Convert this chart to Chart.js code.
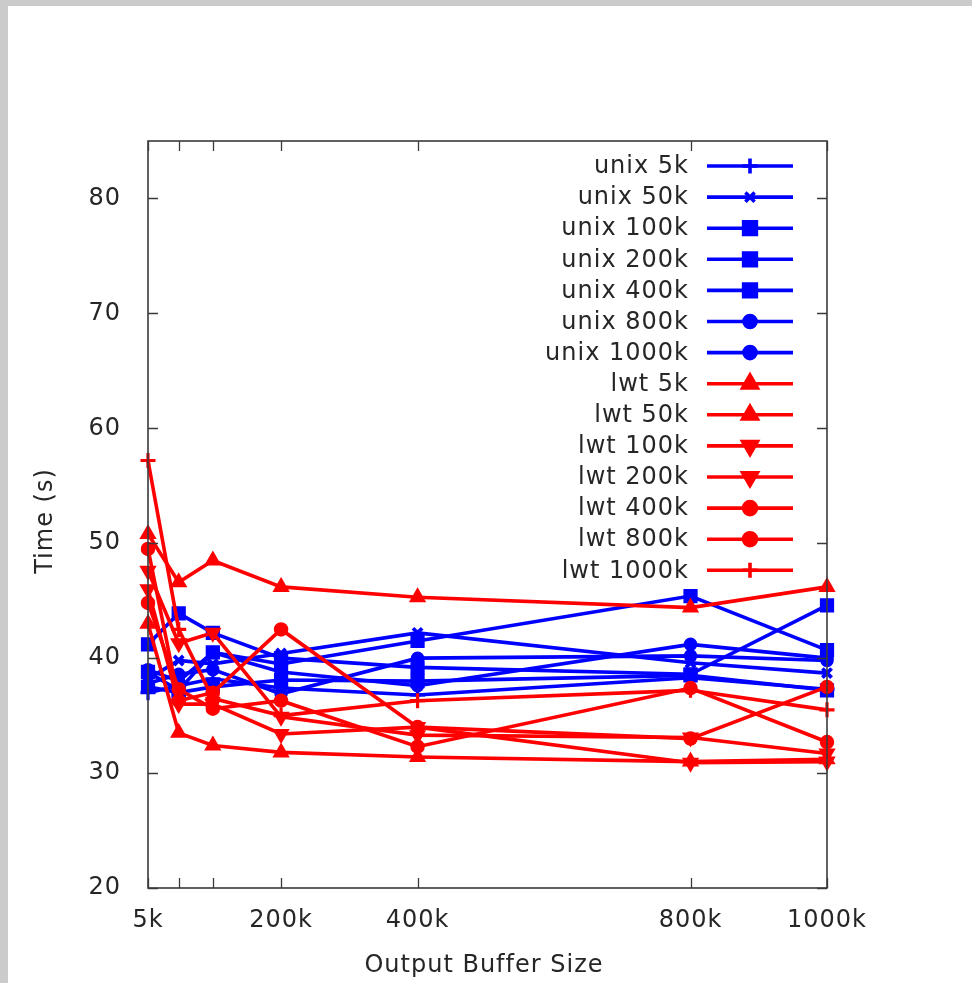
<!DOCTYPE html>
<html>
<head>
<meta charset="utf-8">
<script src="https://cdn.jsdelivr.net/npm/chart.js@4.4.1/dist/chart.umd.min.js"></script>
<style>
  html, body { margin: 0; padding: 0; background: #ffffff; }
  #wrap { position: absolute; left: 0; top: 0; width: 972px; height: 983px; }
</style>
</head>
<body>
<div id="wrap"><canvas id="c" width="972" height="983"></canvas></div>
<script>
// ---- data ----
const bufferSizes = [5, 50, 100, 200, 400, 800, 1000];          // x positions in k
const xTickValues = [5, 50, 100, 200, 400, 800, 1000];
const xTickLabels = ['5k', '', '', '200k', '400k', '800k', '1000k'];
const yTickValues = [20, 30, 40, 50, 60, 70, 80];

const seriesNames = ['unix 5k', 'unix 50k', 'unix 100k', 'unix 200k', 'unix 400k', 'unix 800k', 'unix 1000k',
                     'lwt 5k', 'lwt 50k', 'lwt 100k', 'lwt 200k', 'lwt 400k', 'lwt 800k', 'lwt 1000k'];

const unix5k    = [37.0, 37.6, 38.2, 37.4, 36.8, 38.3, 37.3];
const unix50k   = [38.2, 39.8, 39.5, 40.4, 42.2, 39.6, 38.7];
const unix100k  = [41.2, 43.9, 42.2, 40.0, 39.2, 38.6, 44.6];
const unix200k  = [38.8, 37.2, 40.5, 39.5, 41.5, 45.4, 40.7];
const unix400k  = [37.5, 37.0, 37.5, 38.1, 38.0, 38.5, 37.2];
const unix800k  = [39.0, 38.0, 40.5, 38.8, 37.6, 41.2, 40.0];
const unix1000k = [37.8, 38.6, 39.0, 36.9, 40.0, 40.2, 39.8];

const lwt5k     = [43.0, 33.5, 32.4, 31.8, 31.4, 31.0, 31.2];
const lwt50k    = [50.8, 46.6, 48.5, 46.2, 45.3, 44.4, 46.2];
const lwt100k   = [47.6, 41.3, 42.2, 34.9, 33.3, 33.1, 31.7];
const lwt200k   = [46.0, 36.0, 36.0, 33.4, 34.0, 30.9, 31.0];
const lwt400k   = [49.5, 36.3, 37.0, 42.5, 34.0, 33.0, 37.5];
const lwt800k   = [44.8, 37.3, 35.6, 36.3, 32.3, 37.4, 32.7];
const lwt1000k  = [57.2, 42.5, 36.5, 35.0, 36.3, 37.2, 35.5];

const seriesValues = [unix5k, unix50k, unix100k, unix200k, unix400k, unix800k, unix1000k,
                      lwt5k, lwt50k, lwt100k, lwt200k, lwt400k, lwt800k, lwt1000k];

// ---- styles ----
const BLUE = '#0000ff', RED = '#ff0000';
const markerStyles = [
  {s: 'cross', r: 7.5, bw: 3.2, rot: 0},
  {s: 'crossRot', r: 6.5, bw: 3.8, rot: 0},
  {s: 'rect', r: 9, bw: 1.5, rot: 0},
  {s: 'rect', r: 9, bw: 1.5, rot: 0},
  {s: 'rect', r: 9, bw: 1.5, rot: 0},
  {s: 'circle', r: 6, bw: 1.5, rot: 0},
  {s: 'circle', r: 6, bw: 1.5, rot: 0},
  {s: 'triangle', r: 8.5, bw: 1.5, rot: 0},
  {s: 'triangle', r: 8.5, bw: 1.5, rot: 0},
  {s: 'triangle', r: 8.5, bw: 1.5, rot: 180},
  {s: 'triangle', r: 8.5, bw: 1.5, rot: 180},
  {s: 'circle', r: 6.5, bw: 1.5, rot: 0},
  {s: 'circle', r: 6.5, bw: 1.5, rot: 0},
  {s: 'cross', r: 7.5, bw: 3.2, rot: 0}
];
const FONT = "'DejaVu Sans', 'Liberation Sans', sans-serif";
const TEXT = '#262626';
const LINE_W = 3.6;

const datasets = seriesNames.map((name, i) => {
  const col = i < 7 ? BLUE : RED;
  const m = markerStyles[i];
  return {
    label: name,
    data: bufferSizes.map((b, j) => ({x: b, y: seriesValues[i][j]})),
    borderColor: col,
    backgroundColor: col,
    borderWidth: LINE_W,
    pointStyle: m.s,
    pointRadius: m.r,
    pointRotation: m.rot,
    pointBorderWidth: m.bw,
    pointBackgroundColor: col,
    pointBorderColor: col,
    tension: 0,
    clip: false,
    order: -i
  };
});

const bgPlugin = {
  id: 'bg',
  beforeDraw(chart) {
    const ctx = chart.ctx;
    ctx.save();
    ctx.fillStyle = '#ffffff';
    ctx.fillRect(0, 0, chart.width, chart.height);
    ctx.fillStyle = '#cbcbcb';
    ctx.fillRect(0, 0, chart.width, 6);
    ctx.fillRect(0, 0, 8, chart.height);
    ctx.restore();
    try { ctx.letterSpacing = '1px'; } catch (e) {}
  }
};

const framePlugin = {
  id: 'frame',
  afterDatasetsDraw(chart) {
    const {ctx, chartArea: a, scales: {x, y}} = chart;
    ctx.save();
    ctx.strokeStyle = '#3a3a3a';
    ctx.lineWidth = 1.6;
    ctx.strokeRect(a.left, a.top, a.right - a.left, a.bottom - a.top);
    ctx.beginPath();
    xTickValues.forEach(v => {
      const px = Math.round(x.getPixelForValue(v)) + 0.5;
      ctx.moveTo(px, a.bottom); ctx.lineTo(px, a.bottom - 10);
      ctx.moveTo(px, a.top); ctx.lineTo(px, a.top + 10);
    });
    yTickValues.forEach(v => {
      const py = Math.round(y.getPixelForValue(v)) + 0.5;
      ctx.moveTo(a.left, py); ctx.lineTo(a.left + 10, py);
      ctx.moveTo(a.right, py); ctx.lineTo(a.right - 10, py);
    });
    ctx.lineWidth = 1.3;
    ctx.stroke();
    ctx.restore();
  }
};

function drawMarker(ctx, m, x, y) {
  const opts = {pointStyle: m.s, rotation: m.rot, radius: m.r, borderWidth: m.bw};
  if (Chart.helpers && Chart.helpers.drawPoint) {
    Chart.helpers.drawPoint(ctx, opts, x, y);
    return;
  }
  ctx.beginPath();
  ctx.arc(x, y, m.r, 0, Math.PI * 2);
  ctx.fill();
}

const legendPlugin = {
  id: 'gpLegend',
  afterDraw(chart) {
    const ctx = chart.ctx;
    ctx.save();
    try { ctx.letterSpacing = '1px'; } catch (e) {}
    ctx.font = '24px ' + FONT;
    ctx.textAlign = 'right';
    ctx.textBaseline = 'middle';
    chart.data.datasets.forEach((ds, i) => {
      const yy = 166 + i * 31.1;
      ctx.fillStyle = TEXT;
      ctx.fillText(ds.label, 689, yy + 1);
      ctx.strokeStyle = ds.borderColor;
      ctx.fillStyle = ds.borderColor;
      ctx.lineWidth = LINE_W;
      ctx.beginPath();
      ctx.moveTo(707, yy); ctx.lineTo(793, yy);
      ctx.stroke();
      drawMarker(ctx, markerStyles[i], 750, yy);
    });
    // axis titles
    ctx.fillStyle = TEXT;
    ctx.textAlign = 'center';
    ctx.fillText('Output Buffer Size', 484, 966);
    ctx.translate(46, 521);
    ctx.rotate(-Math.PI / 2);
    ctx.fillText('Time (s)', 0, 0);
    ctx.restore();
  }
};

new Chart(document.getElementById('c'), {
  type: 'line',
  data: {datasets},
  options: {
    responsive: false,
    animation: false,
    devicePixelRatio: 1,
    layout: {padding: {left: 0, top: 141, right: 145, bottom: 0}},
    plugins: {legend: {display: false}, tooltip: {enabled: false}, title: {display: false}},
    scales: {
      x: {
        type: 'linear',
        min: 5, max: 1000,
        grid: {display: false, drawTicks: false},
        border: {display: false},
        afterBuildTicks: s => { s.ticks = xTickValues.map(v => ({value: v})); },
        afterFit: s => { s.height = 95; },
        ticks: {
          autoSkip: false, maxRotation: 0, padding: 18,
          color: TEXT,
          font: {family: FONT, size: 24},
          callback: (v) => { const k = xTickValues.indexOf(v); return k >= 0 ? xTickLabels[k] : ''; }
        }
      },
      y: {
        type: 'linear',
        min: 20, max: 85,
        grid: {display: false, drawTicks: false},
        border: {display: false},
        afterBuildTicks: s => { s.ticks = yTickValues.map(v => ({value: v})); },
        afterFit: s => { s.width = 148; },
        ticks: {
          padding: 27,
          color: TEXT,
          font: {family: FONT, size: 24},
          callback: (v) => String(v)
        }
      }
    }
  },
  plugins: [bgPlugin, framePlugin, legendPlugin]
});
</script>
</body>
</html>
